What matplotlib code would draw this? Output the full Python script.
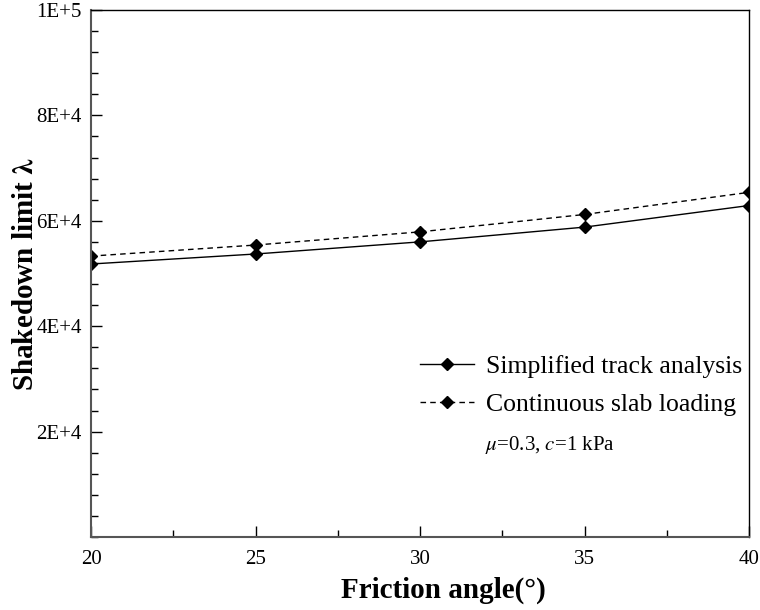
import numpy as np
import matplotlib
matplotlib.use("Agg")
import matplotlib.pyplot as plt
from matplotlib.ticker import MultipleLocator, FixedLocator

# data
friction_angle = [20, 25, 30, 35, 40]
simplified_track = [51800, 53700, 56000, 58800, 62900]
continuous_slab = [53300, 55400, 57900, 61200, 65400]
ytick_vals = [20000, 40000, 60000, 80000, 100000]
ytick_labels = ["2E+4", "4E+4", "6E+4", "8E+4", "1E+5"]

plt.rcParams['font.family'] = ['Liberation Serif', 'DejaVu Serif']
plt.rcParams['mathtext.fontset'] = 'stix'

fig = plt.figure(figsize=(7.6, 6.1), dpi=100)
ax = fig.add_axes([91 / 760, 73 / 610, 658 / 760, 527 / 610])

ax.plot(friction_angle, simplified_track, color="black", lw=1.0,
        marker="D", markersize=6, label="Simplified track analysis")
ax.plot(friction_angle, continuous_slab, color="black", lw=1.0,
        linestyle=(0, (4, 3)), marker="D", markersize=6,
        label="Continuous slab loading")

ax.set_xlim(20, 40)
ax.set_ylim(0, 100000)
ax.xaxis.set_major_locator(MultipleLocator(5))
ax.xaxis.set_minor_locator(MultipleLocator(2.5))
ax.yaxis.set_major_locator(FixedLocator(ytick_vals))
ax.set_yticklabels(ytick_labels)
ax.yaxis.set_minor_locator(MultipleLocator(4000))

ax.tick_params(which="both", direction="in", labelsize=15, colors="black")
ax.tick_params(which="major", length=8, width=1)
ax.tick_params(which="minor", length=5, width=1)
ax.tick_params(axis="x", pad=9)
ax.tick_params(axis="y", pad=6.5)

for side in ["left", "bottom"]:
    ax.spines[side].set_color("#555555")
    ax.spines[side].set_linewidth(1.5)
for side in ["top", "right"]:
    ax.spines[side].set_color("black")
    ax.spines[side].set_linewidth(1.0)

ax.set_xlabel("Friction angle(°)", fontsize=21, fontweight="bold")
ax.set_ylabel(r"Shakedown limit $\boldsymbol{\lambda}$", fontsize=21,
              fontweight="bold")
ax.xaxis.set_label_coords(0.535, -0.1006)
ax.xaxis.label.set_va("center")
ax.yaxis.set_label_coords(-0.1, 0.5)
ax.yaxis.label.set_va("center")

ax.legend(loc="center left", bbox_to_anchor=(0.5, 0.2875), frameon=False,
          fontsize=18.5, handlelength=2.1, handletextpad=0.47,
          labelspacing=0.57, borderpad=0, borderaxespad=0)
ax.text(0.697, 0.175, r"$\mu$=0.3, $c$=1 kPa", transform=ax.transAxes,
        fontsize=15, ha="center", va="center")

fig.savefig("out.png", dpi=100)
